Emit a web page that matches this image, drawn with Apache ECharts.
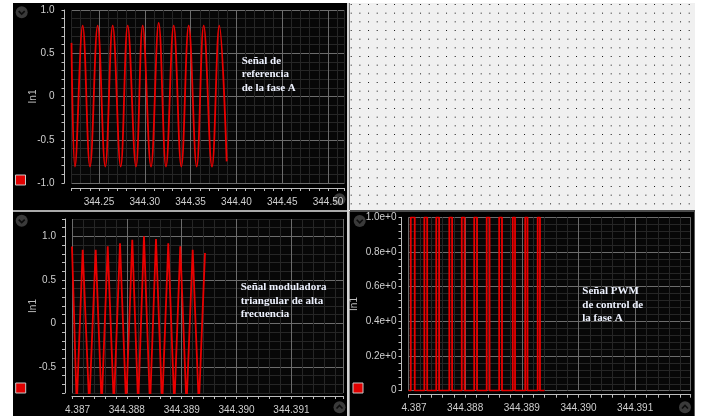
<!DOCTYPE html>
<html>
<head>
<meta charset="utf-8">
<script src="https://cdn.jsdelivr.net/npm/echarts@6/dist/echarts.min.js"></script>
<style>
html, body { margin: 0; padding: 0; background: #fff; }
#main { width: 701px; height: 416px; }
</style>
</head>
<body>
<div id="main"></div>
<script>
var refTiempo = [344.22000, 344.22380, 344.23220, 344.24017, 344.24858, 344.25688, 344.26496,
  344.27369, 344.28133, 344.29039, 344.29771, 344.30677, 344.31517, 344.32314, 344.33155,
  344.33985, 344.34793, 344.35666, 344.36430, 344.37336, 344.38133, 344.38941];
var refValor = [0.62, -0.81, 0.82, -0.81, 0.82, -0.81, 0.82, -0.81, 0.82, -0.81, 0.82,
  -0.81, 0.85, -0.81, 0.82, -0.81, 0.82, -0.81, 0.82, -0.81, 0.82, -0.75];

// Señal moduladora triangular
var triTiempo = [344.387000, 344.387086, 344.387195, 344.387314, 344.387432, 344.387541,
  344.387651, 344.387763, 344.387875, 344.387987, 344.388099, 344.388206, 344.388312,
  344.388422, 344.388531, 344.388643, 344.388755, 344.388865, 344.388974, 344.389087,
  344.389200, 344.389312, 344.389424];
var triValor = [0.885, -0.95, 0.846, -0.95, 0.846, -0.95, 0.885, -0.95, 0.92, -0.95, 0.96,
  -0.95, 1.0, -0.95, 0.97, -0.95, 0.92, -0.95, 0.885, -0.95, 0.846, -0.95, 0.81];

// Señal PWM: flancos de subida y bajada
var pwmSubida = [344.38704, 344.38728, 344.38749, 344.38772, 344.38794, 344.38816,
  344.38838, 344.38860, 344.38884, 344.38906, 344.38928];
var pwmBajada = [344.38711, 344.38733, 344.38754, 344.38777, 344.38799, 344.38821,
  344.38843, 344.38865, 344.38888, 344.38910, 344.38932];
var pwmInicio = 344.38700, pwmFin = 344.38940;
var pwmAlto = 1, pwmBajo = 0;

var MAYOR = '#6c6c6c', MENOR = '#262626', TXT = '#cfcfcf', EJE = '#bdbdbd';
var ROJO = '#ea0000';

var myChart = echarts.init(document.getElementById('main'));

function esMultiplo(v, paso) {
  var r = v / paso;
  return Math.abs(r - Math.round(r)) < 1e-6;
}

function zip(a, b) {
  return a.map(function (t, i) { return [t, b[i]]; });
}

function pasosPwm() {
  var d = [[pwmInicio, pwmBajo]];
  for (var i = 0; i < pwmSubida.length; i++) {
    d.push([pwmSubida[i], pwmBajo], [pwmSubida[i], pwmAlto],
      [pwmBajada[i], pwmAlto], [pwmBajada[i], pwmBajo]);
  }
  d.push([pwmFin, pwmBajo]);
  return d;
}

function ejeX(grid, min, max, paso, colores, fmt, offset) {
  return {
    type: 'value', gridIndex: grid, min: min, max: max, interval: paso, offset: offset,
    axisLine: { show: true, onZero: false, lineStyle: { color: EJE, width: 1 } },
    axisTick: { show: true, length: 3, lineStyle: { color: EJE } },
    axisLabel: {
      formatter: fmt, color: TXT, fontSize: 10, fontFamily: 'Liberation Sans', margin: 9,
      rich: { c: { padding: [0, 0, 0, 11], color: TXT, fontSize: 10, fontFamily: 'Liberation Sans' } }
    },
    splitLine: { show: true, lineStyle: { color: colores, width: 1 } }
  };
}

function ejeY(grid, min, max, paso, colores, fmt, gap, margen) {
  return {
    type: 'value', gridIndex: grid, min: min, max: max, interval: paso, offset: 7,
    name: 'In1', nameLocation: 'middle', nameRotate: 90, nameGap: gap, nameMoveOverlap: false,
    nameTextStyle: { color: EJE, fontSize: 10, fontFamily: 'Liberation Sans' },
    axisLine: { show: true, onZero: false, lineStyle: { color: EJE, width: 1 } },
    axisTick: { show: true, length: 3, lineStyle: { color: EJE } },
    axisLabel: { formatter: fmt, color: TXT, fontSize: 10, fontFamily: 'Liberation Sans', margin: margen },
    splitLine: { show: true, lineStyle: { color: colores, width: 1 } }
  };
}

function fmtCero(v) {
  return Math.abs(v) < 1e-9 ? '0' : v.toFixed(1);
}

function fmtArriba(v) {
  if (!esMultiplo(v, 0.05)) return '';
  return v.toFixed(2);
}

function fmtAbajo(v) {
  if (!esMultiplo(v, 0.001)) return '';
  if (Math.abs(v - 344.387) < 1e-9) return '{c|4.387}';
  return v.toFixed(3);
}

function chevron(cx, cy, arriba) {
  var d = arriba ? -1 : 1;
  return {
    type: 'group', x: cx, y: cy, z: 100, silent: true,
    children: [
      { type: 'circle', shape: { cx: 0, cy: 0, r: 6 }, style: { fill: '#3a3a3a' } },
      { type: 'polyline', shape: { points: [[-3, -1.2 * d], [0, 1.8 * d], [3, -1.2 * d]] },
        style: { stroke: '#0c0c0c', lineWidth: 1.6, fill: null } }
    ]
  };
}

function cuadro(x, y) {
  return { type: 'rect', z: 100, silent: true, shape: { x: x, y: y, width: 10, height: 10 },
    style: { fill: '#e00000', stroke: '#c8c8c8', lineWidth: 1 } };
}

function nota(x, y, texto) {
  return { type: 'text', z: 100, silent: true, x: x, y: y,
    style: { text: texto, fill: '#eef2ff', fontSize: 11, fontWeight: 'bold',
      fontFamily: 'Liberation Serif', lineHeight: 13.4, verticalAlign: 'top' } };
}

// Patrón de puntos del panel vacío
var lienzo = document.createElement('canvas');
lienzo.width = 26; lienzo.height = 26;
var ctx = lienzo.getContext('2d');
ctx.fillStyle = '#f0f0f0';
ctx.fillRect(0, 0, 26, 26);
ctx.fillStyle = '#151515';
for (var i = 0; i < 3; i++) {
  for (var j = 0; j < 3; j++) {
    ctx.fillRect(0.7 + i * 26 / 3, 1 + j * 26 / 3, 1, 1);
  }
}

myChart.setOption({
  animation: false,
  backgroundColor: '#ffffff',
  grid: [
    { left: 71.5, top: 10, width: 273, height: 173, show: true, backgroundColor: '#070707', borderWidth: 0, outerBoundsMode: 'none' },
    { left: 72, top: 219, width: 271, height: 174, show: true, backgroundColor: '#070707', borderWidth: 0, outerBoundsMode: 'none' },
    { left: 408.5, top: 217.3, width: 282.2, height: 173.4, show: true, backgroundColor: '#070707', borderWidth: 0, outerBoundsMode: 'none' }
  ],
  xAxis: [
    ejeX(0, 344.22, 344.518, 0.01, [MENOR, MENOR, MENOR, MAYOR, MENOR], fmtArriba, 5),
    ejeX(1, 344.387, 344.39194, 0.0002, [MAYOR, MENOR, MENOR, MENOR, MENOR], fmtAbajo, 3),
    ejeX(2, 344.387, 344.39198, 0.0002, [MAYOR, MENOR, MENOR, MENOR, MENOR], fmtAbajo, 4)
  ],
  yAxis: [
    ejeY(0, -1, 1, 0.1, [MAYOR, MENOR, MENOR, MENOR, MENOR],
      function (v) { return esMultiplo(v, 0.5) ? fmtCero(v) : ''; }, 26, 10),
    ejeY(1, -0.8, 1.2, 0.1, [MENOR, MENOR, MENOR, MAYOR, MENOR],
      function (v) { return esMultiplo(v, 0.5) ? fmtCero(v) : ''; }, 27, 9),
    ejeY(2, 0, 1, 0.04, [MAYOR, MENOR, MENOR, MENOR, MENOR],
      function (v) {
        if (!esMultiplo(v, 0.2)) return '';
        return Math.abs(v) < 1e-9 ? '0' : v.toFixed(1) + 'e+0';
      }, 42, 5)
  ],
  series: [
    { type: 'line', xAxisIndex: 0, yAxisIndex: 0, data: zip(refTiempo, refValor), smooth: 0.4,
      showSymbol: false, silent: true, lineStyle: { color: ROJO, width: 1.8 } },
    { type: 'line', xAxisIndex: 1, yAxisIndex: 1, data: zip(triTiempo, triValor),
      showSymbol: false, silent: true, lineStyle: { color: ROJO, width: 1.8 } },
    { type: 'line', xAxisIndex: 2, yAxisIndex: 2, data: pasosPwm(),
      showSymbol: false, silent: true, lineStyle: { color: ROJO, width: 1.8 } }
  ],
  graphic: { elements: [
    // paneles
    { type: 'rect', z: -10, silent: true, shape: { x: 13, y: 3, width: 334, height: 207 }, style: { fill: '#000' } },
    { type: 'rect', z: -10, silent: true, shape: { x: 13, y: 212, width: 334, height: 204 }, style: { fill: '#000' } },
    { type: 'rect', z: -10, silent: true, shape: { x: 350, y: 212, width: 344, height: 204 }, style: { fill: '#000' } },
    { type: 'rect', z: -10, silent: true, x: 350, y: 3, shape: { x: 0, y: 0, width: 345, height: 207 },
      style: { fill: { image: lienzo, repeat: 'repeat' } } },
    { type: 'rect', z: -9, silent: true, shape: { x: 349, y: 3, width: 1, height: 207 }, style: { fill: '#7a7a7a' } },
    { type: 'rect', z: -9, silent: true, shape: { x: 347, y: 3, width: 2, height: 413 }, style: { fill: '#d4d4d4' } },
    { type: 'rect', z: -9, silent: true, shape: { x: 349, y: 211, width: 1, height: 205 }, style: { fill: '#8a8a8a' } },
    { type: 'rect', z: -9, silent: true, shape: { x: 13, y: 210, width: 334, height: 2 }, style: { fill: '#a9a9a9' } },
    { type: 'rect', z: -9, silent: true, shape: { x: 350, y: 210, width: 345, height: 2 }, style: { fill: '#4a4a4a' } },
    { type: 'rect', z: -9, silent: true, shape: { x: 694, y: 212, width: 1, height: 204 }, style: { fill: '#5a5a5a' } },
    // iconos
    chevron(21.7, 12.3, false), chevron(339.5, 199.3, true),
    chevron(21.7, 220.8, false), chevron(339.5, 407.3, true),
    chevron(359.7, 221, false), chevron(685, 407.3, true),
    cuadro(15.5, 175), cuadro(15.7, 383), cuadro(353, 383),
    // anotaciones
    nota(241.7, 54.5, 'Señal de\nreferencia\nde la fase A'),
    nota(240.7, 280.6, 'Señal moduladora\ntriangular de alta\nfrecuencia'),
    nota(582.3, 284.6, 'Señal PWM\nde control de\nla fase A')
  ] }
});
</script>
</body>
</html>
